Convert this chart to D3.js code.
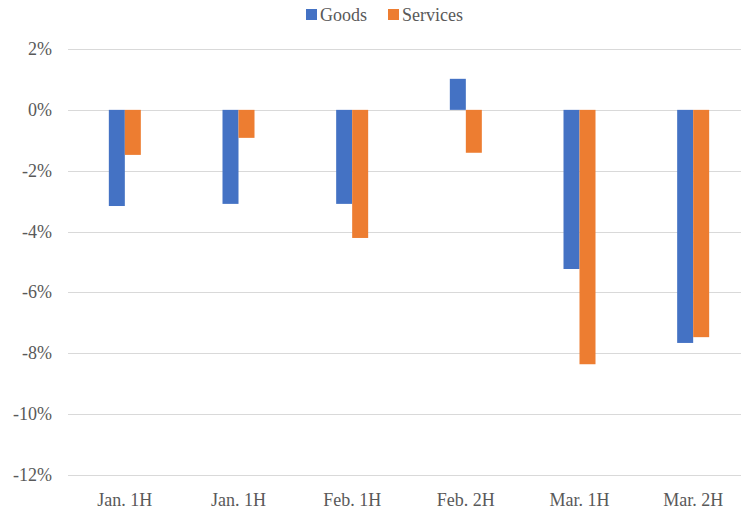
<!DOCTYPE html>
<html>
<head>
<meta charset="utf-8">
<script src="https://cdn.jsdelivr.net/npm/d3@7"></script>
<style>
  body { margin: 0; background: #fff; overflow: hidden; }
  svg text { font-family: "Liberation Serif", "DejaVu Serif", serif; }
</style>
</head>
<body>
<svg id="chart"></svg>
<script>
"use strict";

// data
const periods = ["Jan. 1H", "Jan. 1H", "Feb. 1H", "Feb. 2H", "Mar. 1H", "Mar. 2H"];
const seriesNames = ["Goods", "Services"];
const goods = [-3.16, -3.09, -3.09, 1.02, -5.23, -7.66];
const services = [-1.48, -0.92, -4.21, -1.41, -8.36, -7.47];
const yTicks = [2, 0, -2, -4, -6, -8, -10, -12];
const colors = ["#4472C4", "#ED7D31"];

const W = 741, H = 515;
// plot runs a little past the right edge of the window, like the original
const margin = { top: 49, left: 68 };
const width = 682;
const height = 426;

const svg = d3.select("#chart").attr("width", W).attr("height", H);
const g = svg.append("g").attr("transform", `translate(${margin.left},${margin.top})`);

const x = d3.scaleBand().domain(d3.range(periods.length)).range([0, width]);
const y = d3.scaleLinear().domain([-12, 2]).range([height, 0]);
const barW = 16;

// grid
g.selectAll("line.grid").data(yTicks).enter().append("line")
  .attr("x1", 0).attr("x2", width)
  .attr("y1", d => Math.round(y(d)) + 0.5).attr("y2", d => Math.round(y(d)) + 0.5)
  .attr("stroke", "#d9d9d9").attr("stroke-width", 1);

// y labels
g.selectAll("text.ylab").data(yTicks).enter().append("text")
  .attr("x", -16).attr("y", d => y(d) + 6)
  .attr("text-anchor", "end")
  .attr("fill", "#595959").style("font-size", "18px")
  .text(d => d + "%");

// bars
const rows = periods.map((p, i) => ({ i, vals: [goods[i], services[i]] }));
rows.forEach(r => {
  r.vals.forEach((v, k) => {
    const cx = x(r.i) + x.bandwidth() / 2;
    g.append("rect")
      .attr("x", cx - barW + k * barW)
      .attr("y", y(Math.max(0, v)))
      .attr("width", barW)
      .attr("height", Math.abs(y(v) - y(0)))
      .attr("fill", colors[k]);
  });
});

// x labels
g.selectAll("text.xlab").data(periods).enter().append("text")
  .attr("x", (d, i) => x(i) + x.bandwidth() / 2)
  .attr("y", height + 31)
  .attr("text-anchor", "middle")
  .attr("fill", "#595959").style("font-size", "18px")
  .text(d => d);

// legend
const legend = svg.append("g").attr("transform", "translate(306,9)");
const legX = [0, 82];
seriesNames.forEach((s, k) => {
  legend.append("rect").attr("x", legX[k]).attr("y", 0).attr("width", 11).attr("height", 11).attr("fill", colors[k]);
  legend.append("text").attr("x", legX[k] + 14).attr("y", 12)
    .attr("fill", "#595959").style("font-size", "18px").text(s);
});
</script>
</body>
</html>
